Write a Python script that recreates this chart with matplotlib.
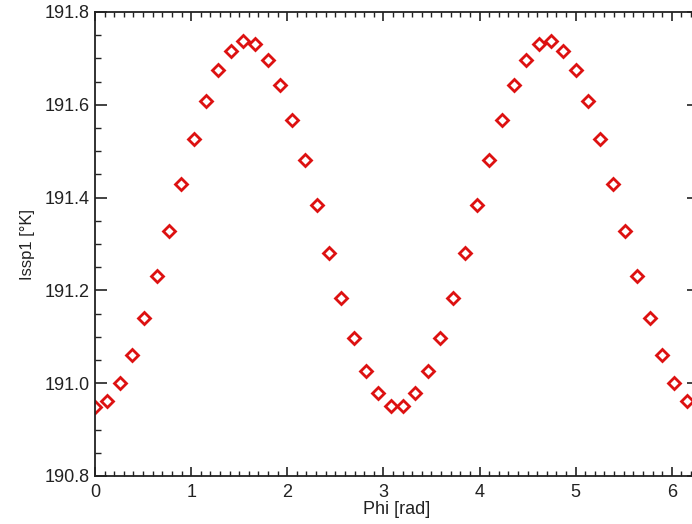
import numpy as np
import matplotlib
matplotlib.use('Agg')
import matplotlib.pyplot as plt
from matplotlib.ticker import MultipleLocator

# phase samples (rad) and the measured Issp1 values
phi = [0.000, 0.128, 0.256, 0.385, 0.513, 0.641, 0.769, 0.898, 1.026, 1.154,
       1.282, 1.411, 1.539, 1.667, 1.795, 1.923, 2.052, 2.180, 2.308, 2.436,
       2.564, 2.693, 2.821, 2.949, 3.077, 3.206, 3.334, 3.462, 3.590, 3.719,
       3.847, 3.975, 4.103, 4.231, 4.360, 4.488, 4.616, 4.744, 4.873, 5.001,
       5.129, 5.257, 5.386, 5.514, 5.642, 5.770, 5.898, 6.027, 6.155]
issp1 = [190.948, 190.961, 191.000, 191.060, 191.140, 191.232, 191.329, 191.430,
         191.527, 191.609, 191.674, 191.716, 191.738, 191.731, 191.697, 191.643,
         191.568, 191.480, 191.383, 191.280, 191.183, 191.097, 191.026, 190.978,
         190.950, 190.950, 190.978, 191.026, 191.097, 191.183, 191.280, 191.383,
         191.480, 191.568, 191.643, 191.697, 191.731, 191.738, 191.716, 191.674,
         191.609, 191.527, 191.430, 191.329, 191.232, 191.140, 191.060, 191.000,
         190.961]

plt.rcParams['font.family'] = ['Liberation Sans', 'DejaVu Sans']

fig = plt.figure(figsize=(6.92, 5.24), dpi=100)
ax = fig.add_axes([95 / 692, 48 / 524, 604 / 692, 464 / 524])

ax.plot(phi, issp1, linestyle='none', marker='D', markersize=6.5,
        markerfacecolor='white', markeredgecolor='#dd1111', markeredgewidth=2.0)

ax.set_xlim(0, 2 * np.pi)
ax.set_ylim(190.8, 191.8)
ax.xaxis.set_major_locator(MultipleLocator(1))
ax.xaxis.set_minor_locator(MultipleLocator(0.1))
ax.yaxis.set_major_locator(MultipleLocator(0.2))
ax.yaxis.set_minor_locator(MultipleLocator(0.05))
ax.yaxis.set_major_formatter(matplotlib.ticker.FormatStrFormatter('%.1f'))

ax.tick_params(axis='both', which='both', direction='in', top=True, right=True,
               labelsize=13, labelcolor='#222222', colors='#222222')
ax.tick_params(axis='x', which='major', length=6.5, width=1.2, pad=6)
ax.tick_params(axis='x', which='minor', length=3.6, width=1.0)
ax.tick_params(axis='y', which='major', length=8.6, width=1.2, pad=4)
ax.tick_params(axis='y', which='minor', length=4.3, width=1.0)
for sp in ax.spines.values():
    sp.set_linewidth(1.3)
    sp.set_color('#222222')

ax.set_xlabel('Phi [rad]', fontsize=13, color='#222222', labelpad=0)
ax.set_ylabel('Issp1 [°K]', fontsize=12, color='#222222', labelpad=7)

fig.savefig('out.png', dpi=100)
